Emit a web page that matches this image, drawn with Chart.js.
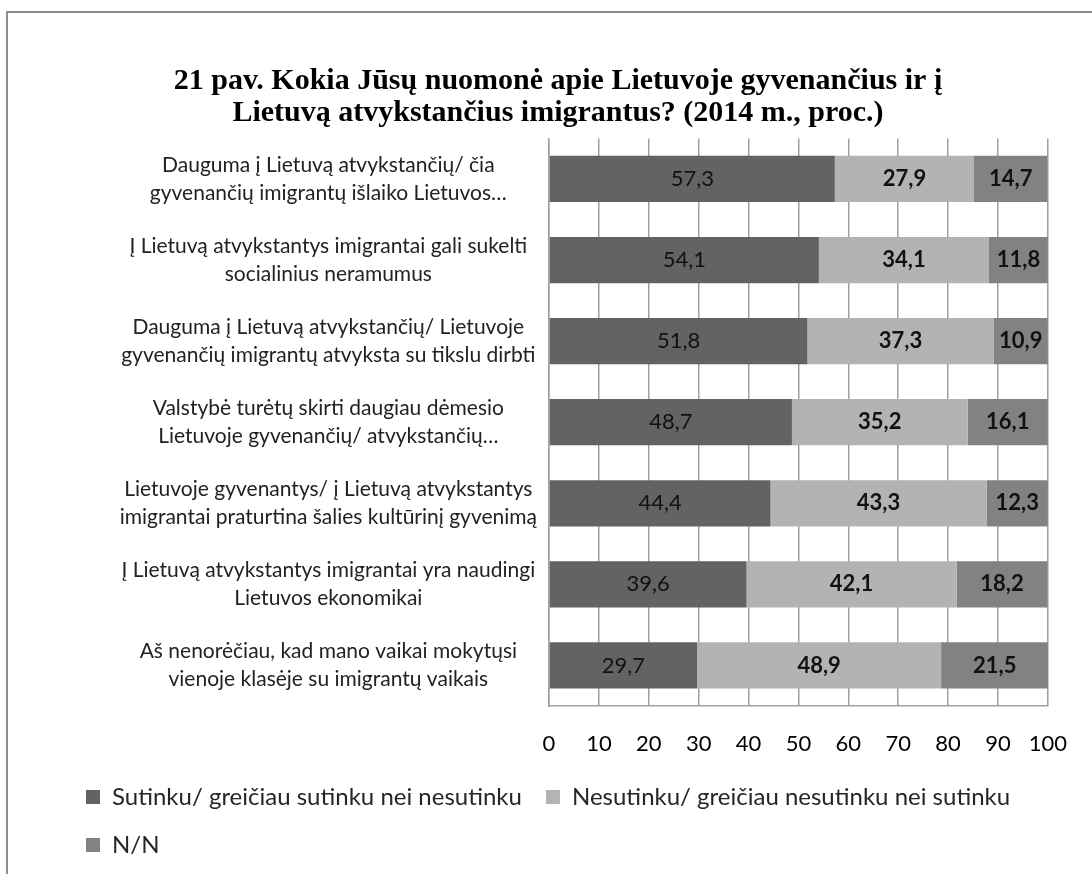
<!DOCTYPE html>
<html>
<head>
<meta charset="utf-8">
<script src="https://cdn.jsdelivr.net/npm/chart.js@4.4.0/dist/chart.umd.min.js"></script>
<style>
  html, body { margin: 0; padding: 0; background: #fff; }
  #frame { position: absolute; left: 6px; top: 11px; width: 1200px; height: 1000px;
           border-left: 2px solid #8c8c8c; border-top: 2px solid #8c8c8c; }
  #wrap { position: absolute; left: 0; top: 0; width: 1092px; height: 874px; }
</style>
</head>
<body>
<div id="frame"></div>
<div id="wrap"><canvas id="chart" width="1092" height="874"></canvas></div>
<script>
// kategorijos (iš viršaus į apačią)
const categories = [
    ['Dauguma į Lietuvą atvykstančių/ čia', 'gyvenančių imigrantų išlaiko Lietuvos…'],
    ['Į Lietuvą atvykstantys imigrantai gali sukelti', 'socialinius neramumus'],
    ['Dauguma į Lietuvą atvykstančių/ Lietuvoje', 'gyvenančių imigrantų atvyksta su tikslu dirbti'],
    ['Valstybė turėtų skirti daugiau dėmesio', 'Lietuvoje gyvenančių/ atvykstančių…'],
    ['Lietuvoje gyvenantys/ į Lietuvą atvykstantys', 'imigrantai praturtina šalies kultūrinį gyvenimą'],
    ['Į Lietuvą atvykstantys imigrantai yra naudingi', 'Lietuvos ekonomikai'],
    ['Aš nenorėčiau, kad mano vaikai mokytųsi', 'vienoje klasėje su imigrantų vaikais']
];

const sutinku = [57.3, 54.1, 51.8, 48.7, 44.4, 39.6, 29.7];
const nesutinku = [27.9, 34.1, 37.3, 35.2, 43.3, 42.1, 48.9];
const nn = [14.7, 11.8, 10.9, 16.1, 12.3, 18.2, 21.5];

const seriesNames = ['Sutinku/ greičiau sutinku nei nesutinku', 'Nesutinku/ greičiau nesutinku nei sutinku', 'N/N'];
const xTicks = [0, 10, 20, 30, 40, 50, 60, 70, 80, 90, 100];

const labelFont = 'Lato';

// reikšmių užrašai ant stulpelių
const valueLabels = {
    id: 'valueLabels',
    afterDatasetsDraw(chart) {
        const ctx = chart.ctx;
        ctx.save();
        ctx.textAlign = 'center';
        ctx.textBaseline = 'middle';
        chart.data.datasets.forEach((ds, i) => {
            const meta = chart.getDatasetMeta(i);
            meta.data.forEach((bar, j) => {
                const p = bar.getCenterPoint();
                ctx.font = (i === 0 ? '' : 'bold ') + '22px ' + labelFont;
                ctx.fillStyle = '#111';
                ctx.fillText(ds.data[j].toFixed(1).replace('.', ','), p.x, p.y);
            });
        });
        ctx.restore();
    }
};

new Chart(document.getElementById('chart'), {
    type: 'bar',
    data: {
        labels: categories,
        datasets: [
            { label: seriesNames[0], data: sutinku, backgroundColor: '#636363' },
            { label: seriesNames[1], data: nesutinku, backgroundColor: '#b3b3b3' },
            { label: seriesNames[2], data: nn, backgroundColor: '#828282' }
        ]
    },
    options: {
        indexAxis: 'y',
        responsive: false,
        animation: false,
        layout: { padding: { left: 62, right: 38, top: 0, bottom: 7 } },
        datasets: { bar: { barPercentage: 0.57, categoryPercentage: 1 } },
        scales: {
            x: {
                stacked: true,
                min: 0,
                max: 100,
                afterBuildTicks(scale) { scale.ticks = xTicks.map(v => ({ value: v })); },
                grid: { color: '#a0a0a0', lineWidth: 1.5, drawTicks: false },
                border: { color: '#a0a0a0', width: 1.5 },
                ticks: { padding: 25, color: '#000', font: { family: labelFont, size: 22 } },
                afterFit(scale) { scale.height = 55; }
            },
            y: {
                stacked: true,
                grid: { display: false, drawTicks: false },
                border: { color: '#a0a0a0', width: 1.5 },
                ticks: { padding: 12, crossAlign: 'center', color: '#222',
                         font: { family: labelFont, size: 21, lineHeight: 1.33 } },
                afterFit(scale) { scale.width = 487; }
            }
        },
        plugins: {
            title: {
                display: true,
                text: ['21 pav. Kokia Jūsų nuomonė apie Lietuvoje gyvenančius ir į', 'Lietuvą atvykstančius imigrantus? (2014 m., proc.)'],
                color: '#000',
                font: { family: 'Liberation Serif', size: 30, weight: 'bold', lineHeight: 1.04 },
                padding: { top: 66, bottom: 10 }
            },
            legend: {
                position: 'bottom',
                align: 'start',
                labels: {
                    boxWidth: 14, boxHeight: 14, padding: 24,
                    color: '#262626', font: { family: labelFont, size: 24 }
                }
            },
            tooltip: { enabled: false }
        }
    },
    plugins: [valueLabels]
});
</script>
</body>
</html>
